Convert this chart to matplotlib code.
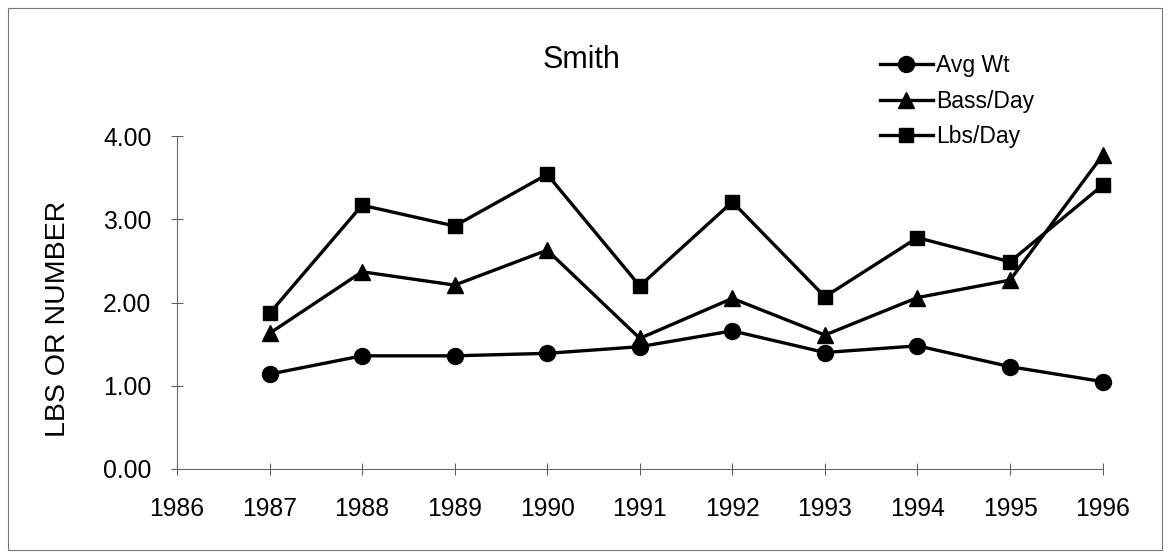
import matplotlib
matplotlib.use("Agg")
import matplotlib.pyplot as plt
from matplotlib.patches import Rectangle

plt.rcParams['font.family'] = ['Liberation Sans', 'DejaVu Sans']

years = [1987, 1988, 1989, 1990, 1991, 1992, 1993, 1994, 1995, 1996]
avg_wt = [1.14, 1.36, 1.36, 1.39, 1.47, 1.66, 1.40, 1.48, 1.23, 1.05]
bass_day = [1.63, 2.37, 2.21, 2.63, 1.57, 2.05, 1.61, 2.06, 2.27, 3.77]
lbs_day = [1.87, 3.17, 2.92, 3.54, 2.20, 3.21, 2.07, 2.78, 2.49, 3.41]
x_ticks = list(range(1986, 1997))
y_ticks = [0, 1, 2, 3, 4]

fig = plt.figure(figsize=(11.68, 5.58), dpi=100)
ax = fig.add_axes([0.1515, 0.1595, 0.7925, 0.5965])

## series
ax.plot(years, avg_wt, color='black', lw=2.4, marker='o', ms=11.5,
        clip_on=False, label='Avg Wt')
ax.plot(years, bass_day, color='black', lw=2.4, marker='^', ms=11,
        clip_on=False, label='Bass/Day')
ax.plot(years, lbs_day, color='black', lw=2.4, marker='s', ms=10,
        clip_on=False, label='Lbs/Day')

ax.set_xlim(1986, 1996)
ax.set_ylim(0, 4)
ax.set_xticks(x_ticks)
ax.set_yticks(y_ticks)
ax.set_yticklabels(['{:.2f}'.format(v) for v in y_ticks])
ax.tick_params(direction='inout', length=9, width=0.7, color='#555555',
               labelsize=17.8)
ax.tick_params(axis='y', pad=14)
ax.tick_params(axis='x', pad=16)

for side in ['top', 'right']:
    ax.spines[side].set_visible(False)
for side in ['left', 'bottom']:
    ax.spines[side].set_color('#666666')
    ax.spines[side].set_linewidth(0.8)

ax.set_ylabel('LBS OR NUMBER', fontsize=20.5)
ax.yaxis.set_label_coords(-0.114, 0.45)
fig.text(582 / 1168, 1 - 68 / 558, 'Smith', fontsize=22, ha='center',
         va='baseline')

ax.legend(loc='upper left', bbox_to_anchor=(880 / 1168, 1 - 54 / 558),
          bbox_transform=fig.transFigure, frameon=False, fontsize=16.5,
          handlelength=2.3, handletextpad=0.15, labelspacing=0.55,
          borderpad=0, borderaxespad=0)

## outer frame
fig.patches.append(Rectangle((8 / 1168, 8 / 558), 1154 / 1168, 542 / 558,
                             transform=fig.transFigure, fill=False,
                             edgecolor='#777777', lw=0.8))

fig.savefig('out.png', dpi=100)
